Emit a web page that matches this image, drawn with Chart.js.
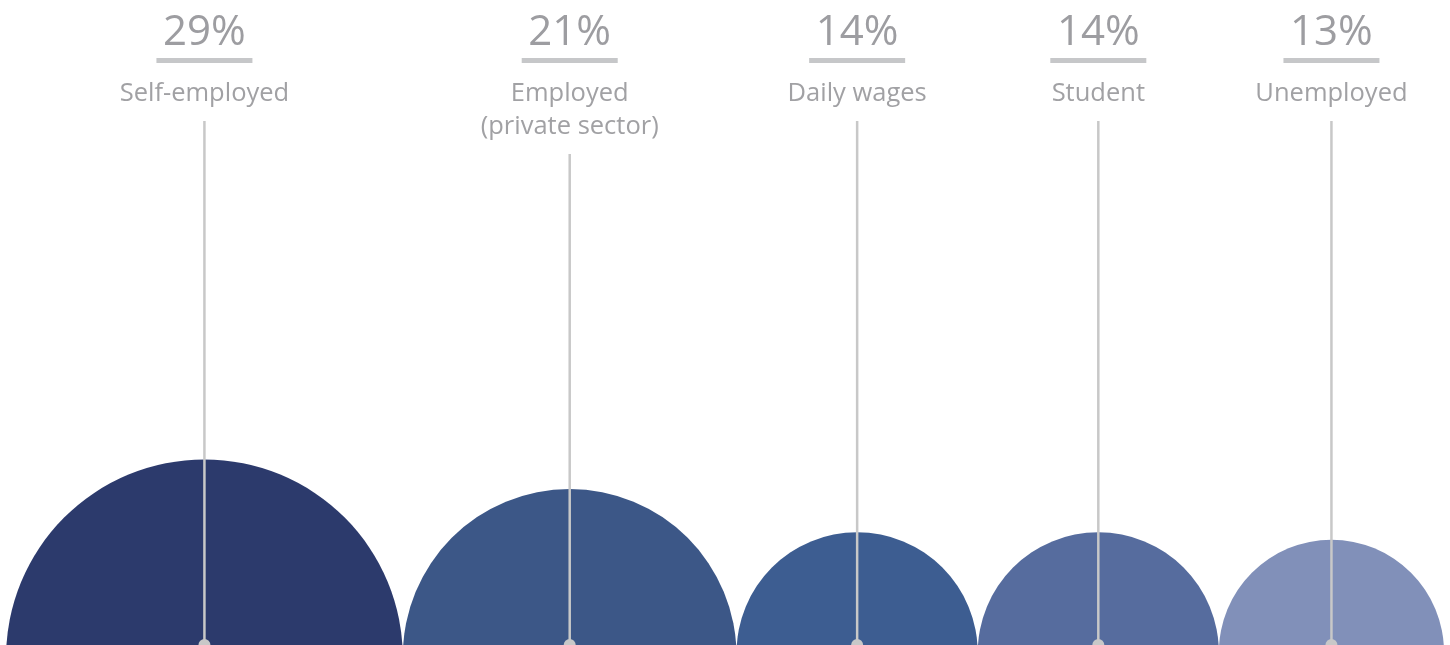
<!DOCTYPE html>
<html>
<head>
<meta charset="utf-8">
<script src="https://cdn.jsdelivr.net/npm/chart.js@4.4.1/dist/chart.umd.min.js"></script>
<style>
  html, body { margin: 0; padding: 0; background: #fff; }
  #wrap { width: 1450px; height: 645px; position: relative; }
</style>
</head>
<body>
<div id="wrap"><canvas id="chart"></canvas></div>
<script>
// data
var categories = [['Self-employed'], ['Employed', '(private sector)'], ['Daily wages'], ['Student'], ['Unemployed']];
var shares = [29, 21, 14, 14, 13];
var colors = ['#2c3a6c', '#3c5787', '#3d5d91', '#566c9e', '#8190b9'];

var W = 1450, H = 645, sideGap = 6;

// bubble size grows with share, then all circles are packed edge to edge across the width
function rawSize(v) { return -0.18 * v * v + 13 * v - 24.5; }
var raw = shares.map(rawSize);
var rawTotal = raw.reduce(function (a, b) { return a + b; }, 0);
var fit = (W - 2 * sideGap) / (2 * rawTotal);
var radii = raw.map(function (r) { return r * fit; });
var centers = [];
var cursor = sideGap;
radii.forEach(function (r) { centers.push(cursor + r); cursor += 2 * r; });

var bubbles = shares.map(function (v, i) {
  return { x: centers[i], y: -0.065 * radii[i], r: radii[i] };
});

var callouts = {
  id: 'callouts',
  afterDatasetsDraw: function (chart) {
    var ctx = chart.ctx;
    var meta = chart.getDatasetMeta(0);
    var bottom = chart.chartArea.bottom;
    ctx.save();
    meta.data.forEach(function (el, i) {
      var x = el.x;
      // percent
      ctx.fillStyle = '#9d9da1';
      ctx.font = '42px "Open Sans"';
      ctx.textAlign = 'center';
      ctx.textBaseline = 'alphabetic';
      ctx.fillText(shares[i] + '%', x, 45);
      // underline bar
      ctx.fillStyle = '#c6c7c9';
      ctx.fillRect(x - 48, 58, 96, 5);
      // category name
      ctx.fillStyle = '#a1a1a4';
      ctx.font = '25.5px "Open Sans"';
      var lines = categories[i];
      var base = 101;
      lines.forEach(function (t, j) {
        ctx.fillText(t, x, base + j * 33);
      });
      var top = base + (lines.length - 1) * 33 + 20;
      // leader line
      ctx.strokeStyle = '#c8c8c8';
      ctx.lineWidth = 2.5;
      ctx.beginPath();
      ctx.moveTo(x, top);
      ctx.lineTo(x, bottom);
      ctx.stroke();
      ctx.fillStyle = '#c8c8c8';
      ctx.beginPath();
      ctx.arc(x, bottom, 6, 0, Math.PI * 2);
      ctx.fill();
    });
    ctx.restore();
  }
};

new Chart(document.getElementById('chart'), {
  type: 'bubble',
  data: {
    datasets: [{
      data: bubbles,
      backgroundColor: colors,
      hoverBackgroundColor: colors,
      borderWidth: 0,
      hoverBorderWidth: 0
    }]
  },
  options: {
    responsive: true,
    maintainAspectRatio: false,
    animation: false,
    layout: { padding: 0, autoPadding: false },
    plugins: {
      legend: { display: false },
      tooltip: { enabled: false }
    },
    scales: {
      x: { type: 'linear', min: 0, max: W, display: false },
      y: { type: 'linear', min: 0, max: H, display: false }
    }
  },
  plugins: [callouts]
});
</script>
</body>
</html>
